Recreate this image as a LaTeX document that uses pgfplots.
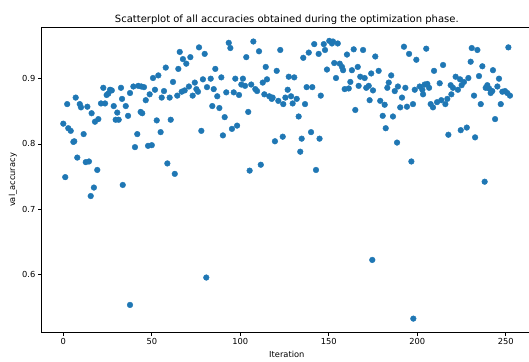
\documentclass[border=0pt]{standalone}
\usepackage{fontspec}
\setmainfont{DejaVu Sans}
\usepackage{pgfplots}
\pgfplotsset{compat=1.18}
\definecolor{c0}{HTML}{1F77B4}
\begin{document}
\begin{tikzpicture}
\begin{axis}[
  at={(0,0)}, anchor=south west,
  scale only axis, width=491.6pt, height=305.4pt,
  xmin=-12.6, xmax=265.2, ymin=0.5104, ymax=0.9788,
  xtick={0,50,100,150,200,250},
  ytick={0.6,0.7,0.8,0.9},
  yticklabels={0.6,0.7,0.8,0.9},
  tick align=outside, tick pos=left,
  major tick length=2.9pt,
  axis line style={line width=0.67pt, black},
  every tick/.style={black, line width=0.67pt},
  ticklabel style={font=\fontsize{8.3}{10}\selectfont, inner sep=1pt},
  xticklabel style={yshift=-1.5pt},
  yticklabel style={xshift=-1.5pt},
  /pgf/number format/assume math mode=true,
  title={Scatterplot of all accuracies obtained during the optimization phase.},
  every axis title/.style={at={(axis description cs:0.5,1)}, anchor=base, yshift=5pt, font=\fontsize{10}{12}\selectfont},
  xlabel={Iteration},
  ylabel={val\_accuracy},
  every axis x label/.style={at={(axis description cs:0.5,0)}, anchor=center, yshift=-21.6pt, font=\fontsize{8.3}{10}\selectfont},
  every axis y label/.style={at={(axis description cs:-0.057,0.5)}, rotate=90, anchor=center, font=\fontsize{8.3}{10}\selectfont},
]
\addplot[only marks, mark=*, mark size=2.85pt, color=c0, mark options={draw=c0, fill=c0}] table {
x y
0 0.831
1.1 0.749
2.2 0.861
2.8 0.824
4.2 0.820
5.7 0.803
6.2 0.804
7.0 0.871
7.9 0.779
9.3 0.861
10 0.856
11.5 0.815
12.7 0.772
13.6 0.857
14.5 0.773
15.5 0.720
16 0.847
17.3 0.733
17.9 0.834
19.2 0.760
19.8 0.838
21.3 0.862
22.6 0.886
23.6 0.862
24.5 0.875
25.4 0.877
26.4 0.883
27.4 0.882
28.5 0.858
29.6 0.837
30.5 0.848
31.3 0.837
32.6 0.886
33.2 0.869
33.6 0.737
35.3 0.858
36.6 0.843
37.7 0.878
37.7 0.553
39.6 0.888
40.5 0.795
41.8 0.815
42.4 0.889
43.7 0.849
44.1 0.888
44.6 0.847
45.6 0.887
46.6 0.867
47.9 0.797
48.8 0.876
50 0.798
50.7 0.901
51.8 0.883
52.8 0.836
53.7 0.905
55 0.818
55.6 0.871
56.9 0.881
57.9 0.917
58.8 0.770
60.1 0.871
60.7 0.837
62 0.895
63 0.754
64.4 0.874
65 0.915
65.8 0.941
66.9 0.880
67.6 0.930
68.6 0.882
69.5 0.923
71 0.888
71.8 0.933
73.1 0.874
74.3 0.894
75.2 0.884
76.1 0.880
76.7 0.948
78 0.820
78.9 0.899
79.9 0.938
80.8 0.595
81.2 0.887
83.3 0.900
84.2 0.858
85 0.884
85.9 0.915
87 0.873
88.2 0.855
89.3 0.902
90.2 0.813
91.2 0.841
92.1 0.879
93.5 0.955
94.4 0.947
95.3 0.823
96.3 0.879
97.2 0.900
98.2 0.828
99.3 0.875
100.6 0.891
101.5 0.900
102.7 0.889
103.4 0.933
104.5 0.849
105.3 0.759
106.2 0.891
107.4 0.957
108.5 0.884
109.5 0.881
110.6 0.942
111.6 0.768
112.7 0.894
113.6 0.876
114.4 0.918
115.1 0.899
116.4 0.873
117.8 0.869
118.3 0.871
119.6 0.804
120.6 0.912
121.5 0.866
122.6 0.944
124 0.811
124.3 0.861
125.5 0.871
126.8 0.883
127.4 0.903
128.7 0.873
129.6 0.862
130.5 0.902
131.9 0.869
133 0.842
133.9 0.788
134.7 0.808
135.6 0.932
136.6 0.861
137.5 0.887
138.7 0.940
140 0.818
140.7 0.887
141.8 0.953
142.8 0.760
144.3 0.938
144.8 0.808
145.5 0.874
147.2 0.953
147.9 0.944
149 0.914
150.3 0.958
151.8 0.954
152.4 0.957
153.1 0.924
154.1 0.901
155.1 0.954
156.2 0.923
157.5 0.918
158.1 0.913
159 0.884
160.3 0.937
161.3 0.885
162.2 0.895
163.1 0.913
164.1 0.945
165 0.852
166.4 0.918
166.9 0.889
167.8 0.903
169.4 0.944
170.3 0.901
171.2 0.886
172.6 0.889
173.1 0.867
174 0.908
174.6 0.622
175 0.882
176.3 0.934
178.2 0.912
179.1 0.866
180.5 0.843
181.6 0.860
182.2 0.824
183.1 0.886
183.9 0.894
185.3 0.905
186.3 0.842
187.3 0.881
188.6 0.802
189.1 0.888
190.4 0.856
191.4 0.871
192.5 0.949
193.3 0.886
194.2 0.857
195.4 0.938
196.7 0.773
197.6 0.861
197.8 0.532
198.6 0.883
199.5 0.929
201.4 0.888
202.9 0.883
203.3 0.876
204.2 0.891
205.1 0.946
205.7 0.892
206.7 0.886
207.6 0.861
208.9 0.856
209.5 0.912
211.2 0.864
212.7 0.893
213.6 0.867
214.6 0.921
215.9 0.861
217 0.869
217.6 0.814
218.9 0.890
219.3 0.876
220.2 0.886
221.7 0.903
223 0.883
224.2 0.899
224.6 0.821
225.1 0.890
226.4 0.895
228 0.825
228.9 0.901
230.2 0.926
230.8 0.947
232.1 0.874
232.7 0.810
234 0.944
234.9 0.904
235.9 0.861
236.8 0.919
238.1 0.742
238.7 0.886
239.6 0.890
240.6 0.885
241.5 0.878
242.4 0.881
242.8 0.913
244 0.838
245.3 0.888
246.2 0.900
247.2 0.861
248.1 0.880
249.6 0.881
250.9 0.878
251.5 0.948
252.4 0.874
};
\end{axis}
\pgfresetboundingbox
\path[use as bounding box] (-41pt,-28.3pt) rectangle (488pt,332.7pt);
\end{tikzpicture}
\end{document}
